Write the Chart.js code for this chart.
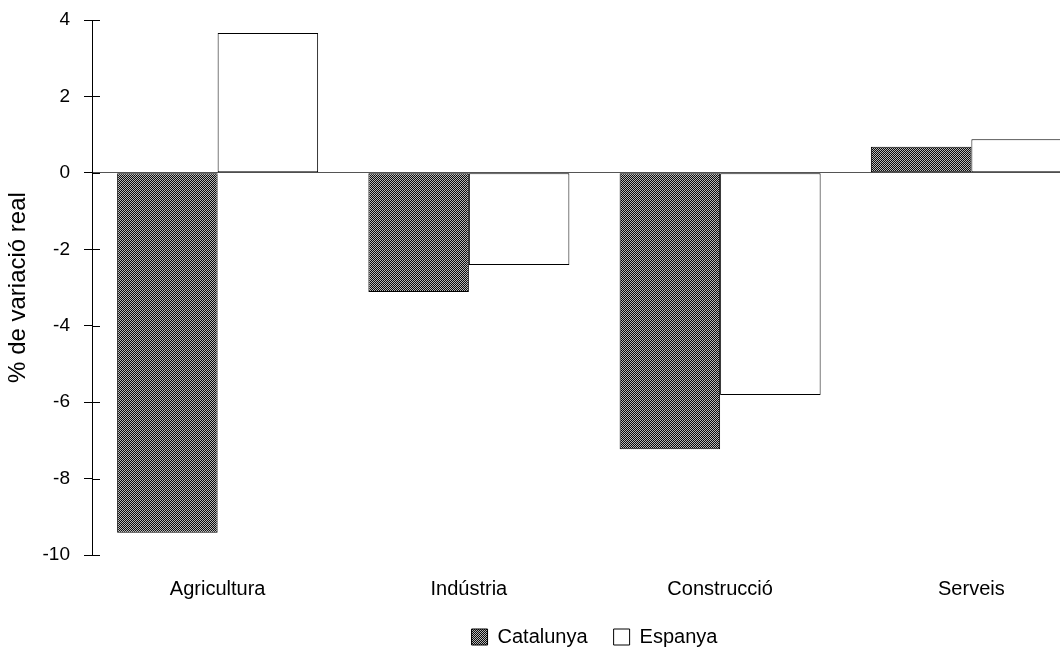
<!DOCTYPE html>
<html>
<head>
<meta charset="utf-8">
<script src="https://cdn.jsdelivr.net/npm/chart.js@4/dist/chart.umd.min.js"></script>
<style>
  html, body { margin: 0; padding: 0; background: #fff; overflow: hidden; }
  #wrap { width: 1060px; height: 657px; overflow: hidden; position: relative; }
  #box { width: 1100px; height: 657px; position: absolute; left: 0; top: 0; }
</style>
</head>
<body>
<div id="wrap"><div id="box"><canvas id="chart"></canvas></div></div>
<script>
// Sectors and real % change
const categories = ['Agricultura', 'Indústria', 'Construcció', 'Serveis'];
const catalunya = [-9.42, -3.12, -7.23, 0.68];
const espanya = [3.66, -2.41, -5.81, 0.88];
const yTicks = [4, 2, 0, -2, -4, -6, -8, -10];

const FONT = '"Liberation Sans", Arial, Helvetica, sans-serif';

// dotted dark fill used for Catalunya
function makePattern() {
    const c = document.createElement('canvas');
    c.width = 2; c.height = 2;
    const g = c.getContext('2d');
    g.fillStyle = '#0a0a0a';
    g.fillRect(0, 0, 2, 2);
    g.fillStyle = '#b8b8b8';
    g.fillRect(0, 0, 1, 1);
    g.fillRect(1, 1, 1, 1);
    return g.createPattern(c, 'repeat');
}

// small tick marks on the inner side of the y axis
const innerTicks = {
    id: 'innerTicks',
    afterDatasetsDraw(chart) {
        const y = chart.scales.y;
        const ctx = chart.ctx;
        ctx.save();
        ctx.strokeStyle = '#000';
        ctx.lineWidth = 1;
        yTicks.forEach(v => {
            const py = Math.round(y.getPixelForValue(v)) + 0.5;
            ctx.beginPath();
            ctx.moveTo(y.right, py);
            ctx.lineTo(y.right + 8, py);
            ctx.stroke();
        });
        ctx.restore();
    }
};

const pattern = makePattern();

new Chart(document.getElementById('chart'), {
    type: 'bar',
    data: {
        labels: categories,
        datasets: [
            {
                label: 'Catalunya',
                data: catalunya,
                backgroundColor: pattern,
                borderColor: '#000',
                borderWidth: 1,
                borderSkipped: false
            },
            {
                label: 'Espanya',
                data: espanya,
                backgroundColor: '#fff',
                borderColor: '#000',
                borderWidth: 1,
                borderSkipped: false
            }
        ]
    },
    options: {
        responsive: true,
        maintainAspectRatio: false,
        animation: false,
        devicePixelRatio: 1,
        layout: { padding: { top: 20, right: 3, left: 0, bottom: 0 } },
        datasets: { bar: { barPercentage: 1, categoryPercentage: 0.8 } },
        plugins: {
            tooltip: { enabled: false },
            legend: {
                position: 'bottom',
                fullSize: false,
                labels: {
                    color: '#000',
                    font: { family: FONT, size: 20 },
                    boxWidth: 16,
                    boxHeight: 16,
                    padding: 26
                }
            }
        },
        scales: {
            x: {
                grid: { display: false, drawTicks: false, tickLength: 0 },
                border: { display: false },
                ticks: {
                    color: '#000',
                    font: { family: FONT, size: 20 },
                    padding: 22,
                    maxRotation: 0
                },
                afterFit(scale) { scale.height = 46; }
            },
            y: {
                min: -10,
                max: 4,
                afterBuildTicks(scale) {
                    scale.ticks = yTicks.map(v => ({ value: v }));
                },
                afterFit(scale) {
                    scale.width = 92;
                    scale.paddingTop = 0;
                    scale.paddingBottom = 0;
                },
                grid: {
                    color: ctx => (ctx.tick && ctx.tick.value === 0 ? '#555' : 'rgba(0,0,0,0)'),
                    tickColor: '#000',
                    tickLength: 8,
                    lineWidth: 1
                },
                border: { display: true, color: '#000', width: 1 },
                ticks: {
                    color: '#000',
                    font: { family: FONT, size: 19 },
                    padding: 14
                },
                title: {
                    display: true,
                    text: '% de variació real',
                    color: '#000',
                    font: { family: FONT, size: 24 },
                    padding: { top: 4, bottom: 4 }
                }
            }
        }
    },
    plugins: [innerTicks]
});
</script>
</body>
</html>
